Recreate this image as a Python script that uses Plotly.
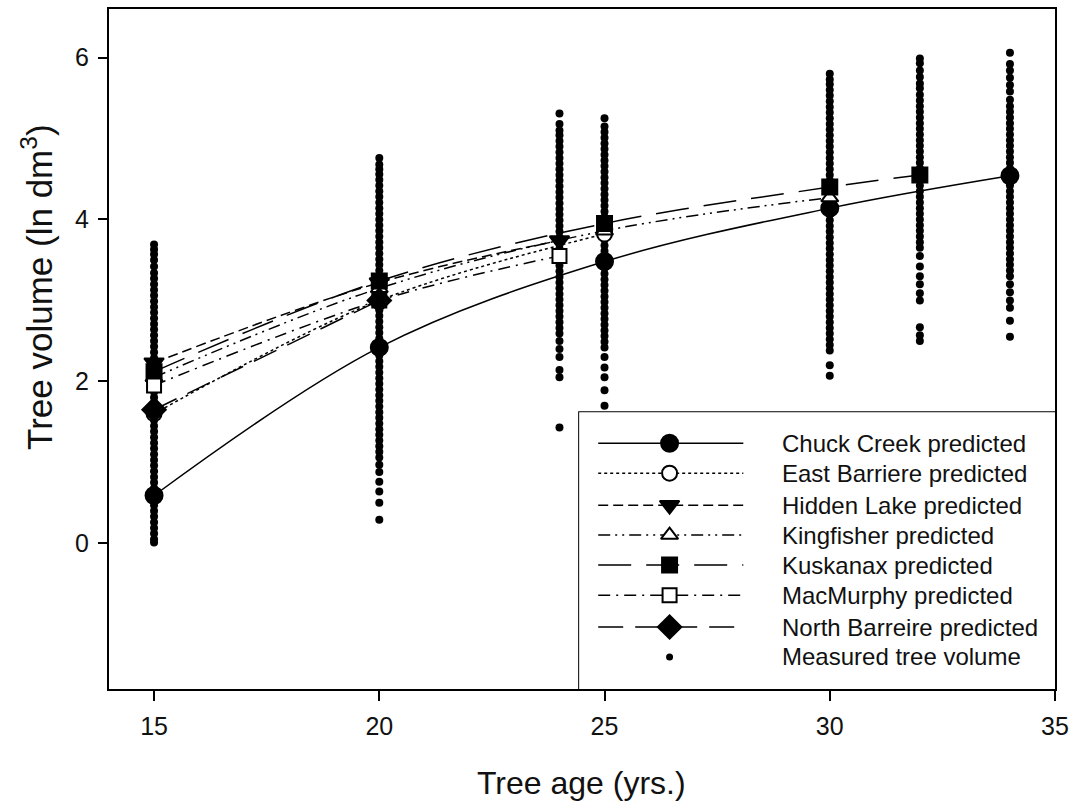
import plotly.graph_objects as go

FONT = "Liberation Sans, Arial, sans-serif"

# ---- measured tree volume (ln dm^3) by stand age ----
meas_15 = [0.01, 0.05, 0.12, 0.19, 0.26, 0.33, 0.40, 0.47, 0.54, 0.61, 0.68, 0.75,
           0.82, 0.89, 0.96, 1.03, 1.10, 1.17, 1.24, 1.31, 1.38, 1.45, 1.52, 1.59,
           1.66, 1.73, 1.80, 1.87, 1.94, 2.01, 2.08, 2.15, 2.22, 2.29, 2.36, 2.43,
           2.50, 2.57, 2.64, 2.71, 2.78, 2.85, 2.92, 2.99, 3.06, 3.13, 3.20, 3.27,
           3.34, 3.42, 3.50, 3.57, 3.63, 3.69]
meas_20 = [0.29, 0.50, 0.64, 0.76, 0.88, 0.97, 1.06, 1.13, 1.20, 1.27, 1.34, 1.41,
           1.48, 1.55, 1.62, 1.69, 1.76, 1.83, 1.90, 1.97, 2.04, 2.11, 2.18, 2.25,
           2.32, 2.39, 2.46, 2.53, 2.60, 2.67, 2.74, 2.81, 2.88, 2.95, 3.02, 3.09,
           3.16, 3.23, 3.30, 3.37, 3.44, 3.51, 3.58, 3.65, 3.72, 3.79, 3.86, 3.93,
           4.00, 4.07, 4.14, 4.21, 4.28, 4.35, 4.42, 4.49, 4.56, 4.62, 4.68, 4.76]
meas_24 = [1.43, 2.05, 2.14, 2.30, 2.40, 2.50, 2.59, 2.66, 2.73, 2.80, 2.87, 2.94,
           3.01, 3.08, 3.15, 3.22, 3.29, 3.36, 3.43, 3.50, 3.57, 3.64, 3.71, 3.78,
           3.85, 3.92, 3.99, 4.06, 4.13, 4.20, 4.27, 4.34, 4.41, 4.48, 4.55, 4.62,
           4.69, 4.76, 4.83, 4.90, 4.97, 5.04, 5.10, 5.18, 5.31]
meas_25 = [1.70, 1.89, 2.05, 2.17, 2.30, 2.42, 2.49, 2.56, 2.63, 2.70, 2.77, 2.84,
           2.91, 2.98, 3.05, 3.12, 3.19, 3.26, 3.33, 3.40, 3.47, 3.54, 3.61, 3.68,
           3.75, 3.82, 3.89, 3.96, 4.03, 4.10, 4.17, 4.24, 4.31, 4.38, 4.45, 4.52,
           4.59, 4.66, 4.73, 4.80, 4.87, 4.94, 5.01, 5.08, 5.15, 5.25]
meas_30 = [2.07, 2.20, 2.38, 2.45, 2.52, 2.59, 2.66, 2.73, 2.80, 2.87, 2.94, 3.01,
           3.08, 3.15, 3.22, 3.29, 3.36, 3.43, 3.50, 3.57, 3.64, 3.71, 3.78, 3.85,
           3.92, 3.99, 4.06, 4.13, 4.20, 4.27, 4.34, 4.41, 4.48, 4.55, 4.62, 4.69,
           4.76, 4.83, 4.90, 4.97, 5.04, 5.11, 5.18, 5.25, 5.32, 5.39, 5.46, 5.53,
           5.60, 5.67, 5.73, 5.80]
meas_32 = [2.50, 2.57, 2.67, 3.00, 3.09, 3.20, 3.30, 3.42, 3.55, 3.65, 3.72, 3.79,
           3.86, 3.93, 4.00, 4.07, 4.14, 4.21, 4.28, 4.35, 4.42, 4.49, 4.56, 4.63,
           4.70, 4.77, 4.84, 4.91, 4.98, 5.05, 5.12, 5.19, 5.26, 5.33, 5.40, 5.47,
           5.54, 5.62, 5.68, 5.76, 5.84, 5.93, 5.99]
meas_34 = [2.55, 2.75, 2.91, 3.00, 3.10, 3.20, 3.30, 3.37, 3.44, 3.51, 3.58, 3.65,
           3.72, 3.79, 3.86, 3.93, 4.00, 4.07, 4.14, 4.21, 4.28, 4.35, 4.42, 4.49,
           4.56, 4.63, 4.70, 4.77, 4.84, 4.91, 4.98, 5.05, 5.12, 5.19, 5.26, 5.33,
           5.40, 5.48, 5.58, 5.66, 5.75, 5.84, 5.92, 6.06]
measured = {15: meas_15, 20: meas_20, 24: meas_24, 25: meas_25,
            30: meas_30, 32: meas_32, 34: meas_34}

# ---- predicted volume per site ----
chuck_age = [15, 20, 25, 30, 34]
chuck_vol = [0.59, 2.42, 3.48, 4.14, 4.54]
east_age = [15, 20, 25]
east_vol = [1.60, 3.00, 3.82]
hidden_age = [15, 20, 24]
hidden_vol = [2.23, 3.22, 3.74]
king_age = [15, 20, 25, 30]
king_vol = [2.05, 3.15, 3.86, 4.27]
kusk_age = [15, 20, 25, 30, 32]
kusk_vol = [2.12, 3.24, 3.95, 4.40, 4.55]
mac_age = [15, 20, 24]
mac_vol = [1.95, 3.00, 3.55]
north_age = [15, 20]
north_vol = [1.65, 3.00]

# name, ages, volumes, dash, symbol, fill colour, marker size
sites = [
    ("Chuck Creek predicted", chuck_age, chuck_vol, "solid", "circle", "black", 17),
    ("East Barriere predicted", east_age, east_vol, "dot", "circle", "white", 15),
    ("Hidden Lake predicted", hidden_age, hidden_vol, "10px,5px", "triangle-down", "black", 17),
    ("Kingfisher predicted", king_age, king_vol, "12px,5px,2px,5px,2px,5px", "triangle-up", "white", 15),
    ("Kuskanax predicted", kusk_age, kusk_vol, "33px,15px", "square", "black", 15),
    ("MacMurphy predicted", mac_age, mac_vol, "12px,6px,2px,6px", "square", "white", 14),
    ("North Barreire predicted", north_age, north_vol, "25px,12px", "diamond", "black", 18),
]

fig = go.Figure()

# measured trees
mx, my = [], []
for age, vals in measured.items():
    mx += [age] * len(vals)
    my += vals
fig.add_trace(go.Scatter(x=mx, y=my, mode="markers",
                         marker=dict(size=8, color="black"),
                         showlegend=False, hoverinfo="skip"))

# predicted curves
for name, ages, vols, dash, sym, fill, msize in sites:
    fig.add_trace(go.Scatter(
        x=ages, y=vols, mode="lines+markers", name=name,
        line=dict(color="black", width=1.5, dash=dash, shape="spline", smoothing=1.0),
        marker=dict(symbol=sym, size=msize, color=fill,
                    line=dict(color="black", width=2)),
        showlegend=False))

# ---- legend panel drawn on its own small axes ----
row_y = [0.888, 0.78, 0.664, 0.556, 0.448, 0.339, 0.224, 0.116]
LEG_FONT = dict(family=FONT, size=24, color="#111")
for (name, _, _, dash, sym, fill, msize), yy in zip(sites, row_y):
    fig.add_trace(go.Scatter(x=[0.04, 0.345], y=[yy, yy], mode="lines",
                             line=dict(color="black", width=1.5, dash=dash),
                             xaxis="x2", yaxis="y2", showlegend=False, hoverinfo="skip"))
    fig.add_trace(go.Scatter(x=[0.19], y=[yy], mode="markers",
                             marker=dict(symbol=sym, size=msize, color=fill,
                                         line=dict(color="black", width=2)),
                             xaxis="x2", yaxis="y2", showlegend=False, hoverinfo="skip"))
    fig.add_annotation(x=0.422, y=yy, xref="x2", yref="y2", text=name,
                       showarrow=False, xanchor="left", yanchor="middle", font=LEG_FONT)
fig.add_trace(go.Scatter(x=[0.19], y=[row_y[-1]], mode="markers",
                         marker=dict(size=7, color="black"),
                         xaxis="x2", yaxis="y2", showlegend=False, hoverinfo="skip"))
fig.add_annotation(x=0.422, y=row_y[-1], xref="x2", yref="y2",
                   text="Measured tree volume", showarrow=False,
                   xanchor="left", yanchor="middle", font=LEG_FONT)

LEG_X0, LEG_Y1 = 0.497, 0.407
fig.add_shape(type="rect", xref="paper", yref="paper", x0=LEG_X0, x1=1, y0=0, y1=LEG_Y1,
              line=dict(color="black", width=2), fillcolor="white", layer="below")

# axis titles
fig.add_annotation(x=0.499, y=-0.138, xref="paper", yref="paper",
                   text="Tree age (yrs.)", showarrow=False,
                   xanchor="center", yanchor="middle",
                   font=dict(family=FONT, size=32, color="#111"))
fig.add_annotation(x=-0.076, y=0.59, xref="paper", yref="paper",
                   text="Tree volume (ln dm<sup>3</sup>)", showarrow=False, textangle=-90,
                   xanchor="center", yanchor="middle",
                   font=dict(family=FONT, size=35, color="#111"))

AX = dict(ticks="outside", tickwidth=2, tickcolor="black",
          showline=True, linecolor="black", linewidth=2, mirror=True,
          showgrid=False, zeroline=False, automargin=False,
          tickfont=dict(size=25, family=FONT, color="#111"))

fig.update_layout(
    width=1076, height=803, autosize=False,
    margin=dict(l=109, r=21, t=9, b=114),
    paper_bgcolor="white", plot_bgcolor="white",
    font=dict(family=FONT, color="#111"),
    showlegend=False,
    xaxis=dict(range=[14, 35], tickvals=[15, 20, 25, 30, 35], ticklen=10,
               ticklabelstandoff=4, **AX),
    yaxis=dict(range=[-1.8, 6.6], tickvals=[0, 2, 4, 6], ticklen=9,
               ticklabelstandoff=4, **AX),
    xaxis2=dict(domain=[LEG_X0, 1], range=[0, 1], visible=False, anchor="y2"),
    yaxis2=dict(domain=[0, LEG_Y1], range=[0, 1], visible=False, anchor="x2"),
)

fig.write_html("out.html")
